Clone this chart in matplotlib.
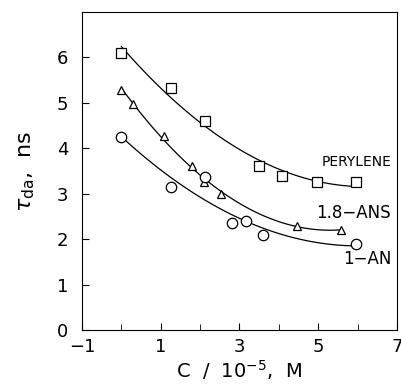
import matplotlib.pyplot as plt
import numpy as np

# perylene (squares)
per_x = [0.0, 1.26, 2.12, 3.5, 4.09, 4.98, 5.97]
per_y = [6.1, 5.32, 4.6, 3.6, 3.4, 3.25, 3.25]
# 1.8-ANS (triangles)
ans_x = [0.0, 0.30, 1.09, 1.8, 2.11, 2.53, 4.47, 5.57]
ans_y = [5.28, 4.98, 4.28, 3.6, 3.26, 3.0, 2.3, 2.2]
# 1-AN (circles)
an_x = [0.0, 1.27, 2.12, 2.82, 3.17, 3.6, 5.97]
an_y = [4.25, 3.14, 3.36, 2.35, 2.39, 2.1, 1.89]

xticks = [-1, 1, 3, 5, 7]
yticks = [0, 1, 2, 3, 4, 5, 6]

plt.rcParams['font.family'] = ['DejaVu Sans']

fig = plt.figure(figsize=(4.02, 3.88), dpi=100)
ax = fig.add_axes([82 / 402, 58 / 388, 315 / 402, 318 / 388])

def fit_curve(x, y, x_end):
    # smooth quadratic fit through the points, like the original
    c = np.polyfit(x, y, 2)
    xs = np.linspace(0, x_end, 100)
    return xs, np.polyval(c, xs)

for x, y, m, ms, xe in [(per_x, per_y, 's', 7.5, 6.0),
                        (ans_x, ans_y, '^', 6, 5.6),
                        (an_x, an_y, 'o', 7.5, 6.0)]:
    xs, ys = fit_curve(x, y, xe)
    ax.plot(xs, ys, color='black', lw=0.9)
    ax.plot(x, y, m, ms=ms, mfc='white', mec='black', mew=0.9, ls='none')

ax.text(6.85, 3.7, 'PERYLENE', ha='right', va='center', fontsize=10)
ax.text(6.85, 2.58, '1.8\u2212ANS', ha='right', va='center', fontsize=12)
ax.text(6.85, 1.56, '1\u2212AN', ha='right', va='center', fontsize=12)

ax.set_xlim(-1, 7)
ax.set_ylim(0, 7)
ax.set_xticks(xticks)
ax.set_xticks(range(-1, 8), minor=True)
ax.set_yticks(yticks)
ax.tick_params(direction='in', labelsize=13, length=5)
ax.tick_params(axis='y', pad=10)
ax.tick_params(axis='x', pad=6)
ax.tick_params(which='minor', direction='in', length=4)
ax.set_xticklabels([str(t).replace('-', '\u2212') for t in xticks])

ax.set_xlabel(r'C  /  10$^{-5}$,  M', fontsize=14, labelpad=1)
ax.set_ylabel(r'$\tau_{\mathrm{da}}$,  ns', fontsize=16, labelpad=14)

plt.savefig('out.png', dpi=100)
